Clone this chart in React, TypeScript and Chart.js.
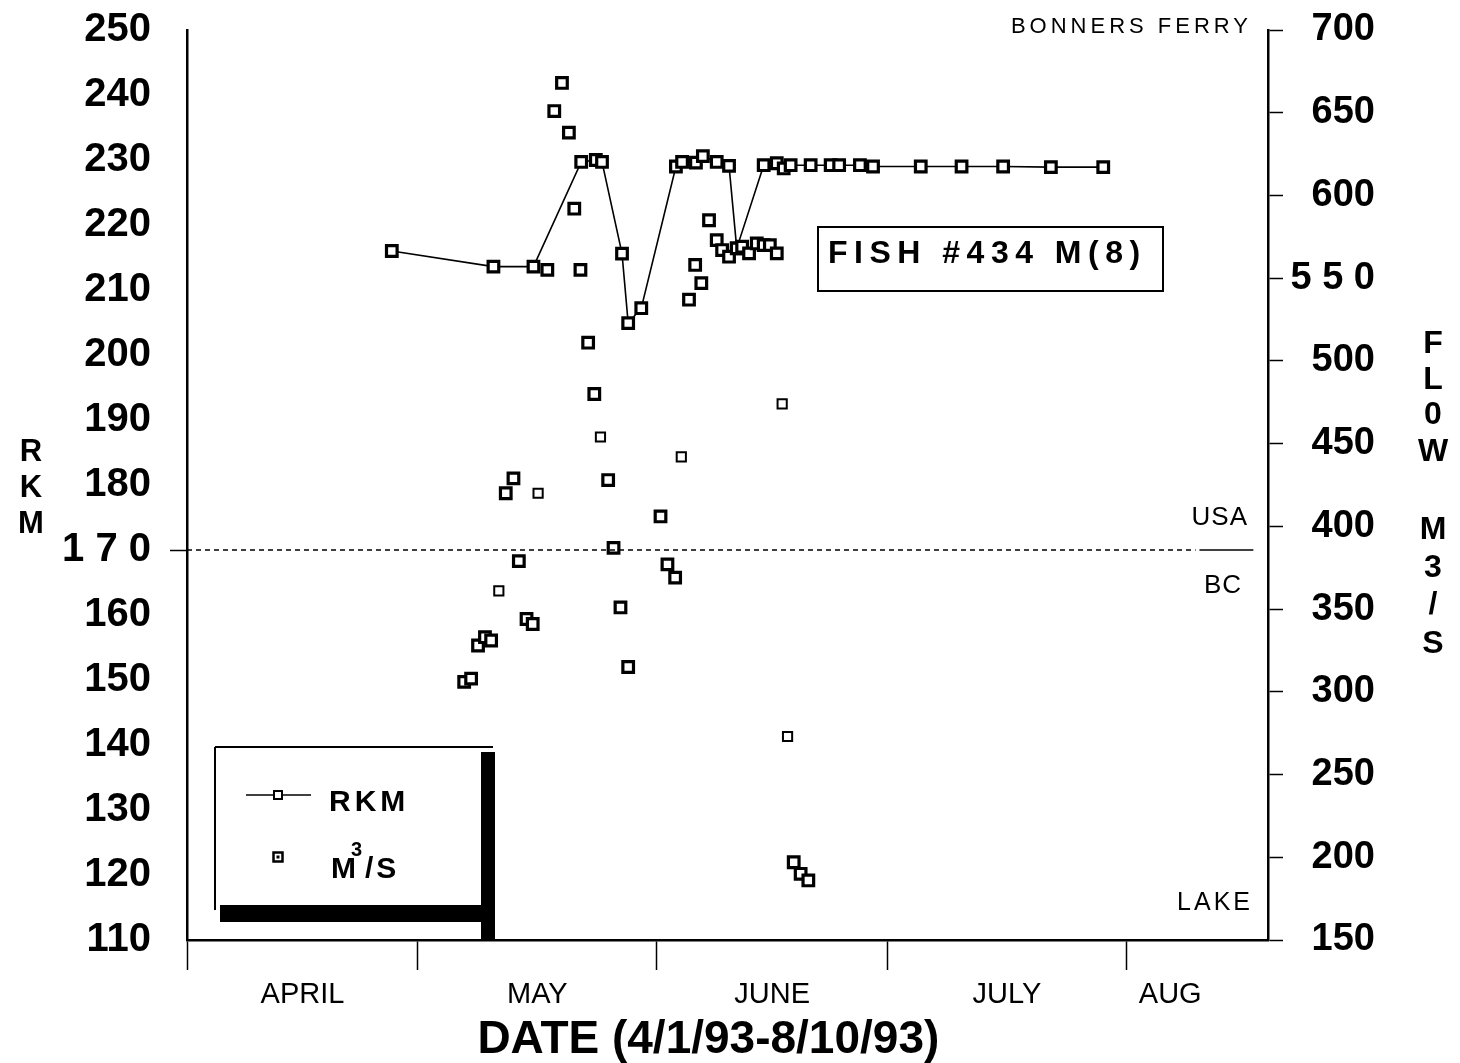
import React, { useEffect, useRef } from 'react';
import { Chart, registerables } from 'chart.js';

Chart.register(...registerables);

// x values are days since 4/1/93 (April 1 = 0)
const rkmDays = [26.6, 39.8, 45.0, 51.2, 53.1, 53.9, 56.5, 57.3, 59.0, 63.5, 64.3, 66.1, 67.0, 68.8, 70.4, 71.4, 74.9, 76.6, 77.5, 78.4, 81.0, 83.6, 84.7, 87.4, 89.1, 95.3, 100.6, 106.0, 112.2, 119.0];
const rkmValues = [216.0, 213.6, 213.6, 229.7, 230.0, 229.7, 215.6, 204.9, 207.2, 229.0, 229.7, 229.6, 230.6, 229.7, 229.1, 216.4, 229.2, 229.5, 228.7, 229.2, 229.2, 229.2, 229.2, 229.2, 229.0, 229.0, 229.0, 229.0, 228.9, 228.9];

const flowDays = [36.0, 36.9, 37.8, 38.7, 39.5, 41.4, 42.4, 43.1, 44.1, 44.9, 46.8, 47.7, 48.7, 49.6, 50.3, 51.1, 52.1, 52.9, 54.7, 55.4, 56.3, 57.3, 61.5, 62.4, 63.4, 65.2, 66.0, 66.8, 67.8, 68.8, 69.5, 70.4, 71.4, 72.1, 73.0, 74.0, 74.9, 75.7, 76.6, 78.8, 79.7, 80.7];
const flowValues = [306, 308, 328, 333, 331, 420, 429, 379, 344, 341, 555, 651, 668, 638, 592, 555, 511, 480, 428, 387, 351, 315, 406, 377, 369, 537, 558, 547, 585, 573, 567, 563, 568, 569, 565, 571, 570, 570, 565, 197, 190, 186];

const flowOpenDays = [40.5, 45.6, 53.7, 64.2, 77.3, 78.0];
const flowOpenValues = [361, 420, 454, 442, 474, 273];

const monthBoundaryDays = [0, 30, 61, 91, 122];
const monthMidDays = [15, 45.5, 76, 106.5, 127.7];
const monthLabels = ['APRIL', 'MAY', 'JUNE', 'JULY', 'AUG'];

const borderRkm = 170;
const borderDashEnd = 131;
const borderSolidStart = 131.5;
const borderSolidEnd = 138.5;

const rkmMin = 110;
const rkmMax = 250;
const rkmStep = 10;
const flowMin = 150;
const flowMax = 700;
const flowStep = 50;
const dayMin = 0;
const dayMax = 140.4;

const spacedTickLabels: Record<string, string> = { '170': '1 7 0', '550': '5 5 0' };

const FONT = "'Liberation Sans', Arial, Helvetica, sans-serif";

const annotationPlugin = {
  id: 'annotationText',
  afterDraw(chart: any) {
    const ctx: CanvasRenderingContext2D = chart.ctx;
    ctx.save();
    ctx.fillStyle = '#000';
    ctx.strokeStyle = '#000';
    const text = (s: string, x: number, y: number, font: string, align: CanvasTextAlign = 'left', spacing = '0px') => {
      ctx.font = font;
      ctx.textAlign = align;
      ctx.textBaseline = 'alphabetic';
      (ctx as any).letterSpacing = spacing;
      ctx.fillText(s, x, y);
    };

    // stacked axis titles
    const rkmTitle = ['R', 'K', 'M'];
    const rkmTitleY = [461, 497, 533];
    rkmTitle.forEach((c, i) => text(c, 31, rkmTitleY[i], `bold 31px ${FONT}`, 'center'));
    const flowTitle = ['F', 'L', '0', 'W', 'M', '3', '/', 'S'];
    const flowTitleY = [353, 389, 424, 461, 539, 577, 614, 653];
    flowTitle.forEach((c, i) => text(c, 1433, flowTitleY[i], `bold 32px ${FONT}`, 'center'));

    // place labels
    text('BONNERS FERRY', 1252, 33, `22px ${FONT}`, 'right', '4px');
    text('USA', 1248, 525, `26px ${FONT}`, 'right', '1px');
    text('BC', 1242, 593, `26px ${FONT}`, 'right', '1px');
    text('LAKE', 1253, 910, `25px ${FONT}`, 'right', '3px');

    // fish box
    ctx.lineWidth = 2;
    ctx.strokeRect(818, 227, 345, 64);
    text('FISH #434 M(8)', 828, 263, `bold 32px ${FONT}`, 'left', '6.5px');

    // legend box
    ctx.lineWidth = 2;
    ctx.beginPath();
    ctx.moveTo(215, 747);
    ctx.lineTo(493, 747);
    ctx.moveTo(215, 747);
    ctx.lineTo(215, 910);
    ctx.stroke();
    ctx.fillRect(220, 905, 275, 17);
    ctx.fillRect(481, 752, 14, 188);

    ctx.lineWidth = 1.5;
    ctx.beginPath();
    ctx.moveTo(246, 795);
    ctx.lineTo(311, 795);
    ctx.stroke();
    ctx.fillStyle = '#fff';
    ctx.fillRect(274, 791, 8, 8);
    ctx.fillStyle = '#000';
    ctx.lineWidth = 2;
    ctx.strokeRect(274, 791, 8, 8);
    text('RKM', 329, 811, `bold 30px ${FONT}`, 'left', '4px');

    ctx.fillStyle = '#fff';
    ctx.fillRect(273.5, 852.5, 9, 9);
    ctx.fillStyle = '#000';
    ctx.lineWidth = 2.5;
    ctx.strokeRect(273.5, 852.5, 9, 9);
    ctx.fillRect(276.5, 855.5, 3, 3);
    text('M', 331, 878, `bold 30px ${FONT}`, 'left');
    text('3', 351, 856, `bold 20px ${FONT}`, 'left');
    text('/S', 365, 878, `bold 30px ${FONT}`, 'left', '3px');

    ctx.restore();
  },
};

export default function App() {
  const canvasRef = useRef<HTMLCanvasElement | null>(null);

  useEffect(() => {
    if (!canvasRef.current) return;
    const markerBase = {
      pointStyle: 'rect' as const,
      pointBackgroundColor: '#fff',
      pointBorderColor: '#000',
    };
    const centerDot = {
      showLine: false,
      pointStyle: 'rect' as const,
      pointRadius: 2,
      pointBorderWidth: 0,
      pointBackgroundColor: '#000',
      pointBorderColor: '#000',
    };
    const flowPoints = flowDays.map((d, i) => ({ x: d, y: flowValues[i] }));
    const rkmPoints = rkmDays.map((d, i) => ({ x: d, y: rkmValues[i] }));
    const chart = new Chart(canvasRef.current, {
      type: 'line',
      data: {
        datasets: [
          {
            label: 'BORDER',
            data: [
              { x: dayMin, y: borderRkm },
              { x: borderDashEnd, y: borderRkm },
            ],
            yAxisID: 'y',
            borderColor: '#000',
            borderWidth: 1.6,
            borderDash: [5, 4],
            pointRadius: 0,
          },
          {
            label: 'BORDER2',
            data: [
              { x: borderSolidStart, y: borderRkm },
              { x: borderSolidEnd, y: borderRkm },
            ],
            yAxisID: 'y',
            borderColor: '#000',
            borderWidth: 1.5,
            pointRadius: 0,
          },
          {
            label: 'M3/S',
            data: flowPoints,
            yAxisID: 'y2',
            showLine: false,
            ...markerBase,
            pointRadius: 7.5,
            pointBorderWidth: 3.2,
          },
          {
            label: 'M3/S centre',
            data: flowPoints,
            yAxisID: 'y2',
            ...centerDot,
          },
          {
            label: 'M3/S open',
            data: flowOpenDays.map((d, i) => ({ x: d, y: flowOpenValues[i] })),
            yAxisID: 'y2',
            showLine: false,
            ...markerBase,
            pointRadius: 6.5,
            pointBorderWidth: 2,
          },
          {
            label: 'RKM',
            data: rkmPoints,
            yAxisID: 'y',
            borderColor: '#000',
            borderWidth: 1.6,
            tension: 0,
            ...markerBase,
            pointRadius: 7.5,
            pointBorderWidth: 3.2,
          },
          {
            label: 'RKM centre',
            data: rkmPoints,
            yAxisID: 'y',
            ...centerDot,
          },
        ],
      },
      options: {
        responsive: false,
        animation: false,
        layout: { padding: { top: 30, left: 0, right: 85, bottom: 0 } },
        plugins: {
          legend: { display: false },
          tooltip: { enabled: false },
        },
        scales: {
          x: {
            type: 'linear',
            position: 'bottom',
            min: dayMin,
            max: dayMax,
            afterBuildTicks: (scale: any) => {
              scale.ticks = [...monthBoundaryDays, ...monthMidDays]
                .sort((a, b) => a - b)
                .map((v) => ({ value: v }));
            },
            afterFit: (scale: any) => {
              scale.height = 123;
            },
            border: { display: true, color: '#000', width: 2.5 },
            grid: {
              drawOnChartArea: false,
              drawTicks: true,
              tickLength: 30,
              tickWidth: 1.5,
              tickColor: (c: any) =>
                c.tick && monthBoundaryDays.includes(c.tick.value) ? '#000' : 'rgba(0,0,0,0)',
            },
            ticks: {
              autoSkip: false,
              maxRotation: 0,
              minRotation: 0,
              padding: 8,
              color: '#000',
              font: { family: FONT, size: 29 },
              callback: (v: any) => {
                const i = monthMidDays.indexOf(Number(v));
                return i >= 0 ? monthLabels[i] : '';
              },
            },
            title: {
              display: true,
              text: 'DATE (4/1/93-8/10/93)   ',
              color: '#000',
              font: { family: FONT, size: 46, weight: 'bold' },
              padding: { top: 0, bottom: -5 },
            },
          },
          y: {
            type: 'linear',
            position: 'left',
            min: rkmMin,
            max: rkmMax,
            afterFit: (scale: any) => {
              scale.width = 187;
              scale.paddingTop = 0;
              scale.paddingBottom = 0;
            },
            border: { display: true, color: '#000', width: 2.5 },
            grid: {
              drawOnChartArea: false,
              drawTicks: true,
              tickLength: 17,
              tickWidth: 1.5,
              tickColor: (c: any) => (c.tick && c.tick.value === borderRkm ? '#000' : 'rgba(0,0,0,0)'),
            },
            ticks: {
              stepSize: rkmStep,
              padding: 19,
              color: '#000',
              font: { family: FONT, size: 40, weight: 'bold' },
              callback: (v: any) => spacedTickLabels[String(v)] ?? String(v),
            },
          },
          y2: {
            type: 'linear',
            position: 'right',
            min: flowMin,
            max: flowMax,
            afterFit: (scale: any) => {
              scale.width = 107;
              scale.paddingTop = 0;
              scale.paddingBottom = 0;
            },
            border: { display: true, color: '#000', width: 2.5 },
            grid: {
              drawOnChartArea: false,
              drawTicks: true,
              tickLength: 15,
              tickWidth: 1.5,
              tickColor: '#000',
            },
            ticks: {
              stepSize: flowStep,
              padding: 4,
              crossAlign: 'far',
              color: '#000',
              font: { family: FONT, size: 38, weight: 'bold' },
              callback: (v: any) => spacedTickLabels[String(v)] ?? String(v),
            },
          },
        },
      } as any,
      plugins: [annotationPlugin],
    });
    return () => chart.destroy();
  }, []);

  return (
    <div style={{ position: 'fixed', left: 0, top: 0, width: 1460, height: 1063, background: '#fff' }}>
      <canvas ref={canvasRef} width={1460} height={1063} />
    </div>
  );
}
